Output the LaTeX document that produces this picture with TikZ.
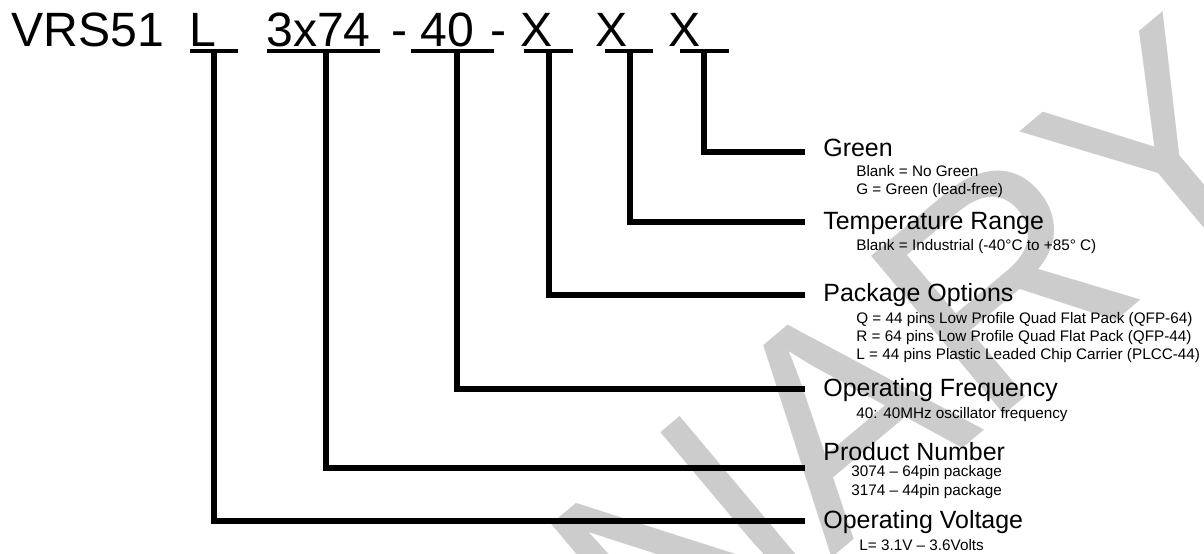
\documentclass[tikz,border=0pt]{standalone}
\usepackage{fontspec}
\setmainfont{Liberation Sans}

\tikzset{
  field/.style={anchor=base west, inner sep=0pt, font=\fontsize{27.4}{30}\selectfont},
  title/.style={anchor=base west, inner sep=0pt, font=\fontsize{14.2}{16}\selectfont},
  info/.style={anchor=base west, inner sep=0pt, font=\fontsize{8.7}{10}\selectfont},
  uline/.style={line width=0.7mm},
  lead/.style={line width=1.2mm, line join=miter},
}

\begin{document}
\begin{tikzpicture}[x=0.2mm, y=-0.2mm]
    \useasboundingbox (0,0) rectangle (1204,554);

    % Watermark behind everything
    \begin{scope}
        \clip (0,0) rectangle (1204,554);
        \node[anchor=base east, inner sep=0pt, rotate=40, text=black!20,
              font=\fontsize{171}{171}\selectfont] (stamp) at (1301,165) {PRELIMINARY};
    \end{scope}

    % Part number fields
    \node[field] (vrs) at (11,47) {VRS51};
    \node[field] (fL) at (189,47) {L};
    \node[field] (fPN) at (266,47) {3x74};
    \node[field] (dashA) at (391,47) {-};
    \node[field] (fF) at (420,47) {40};
    \node[field] (dashB) at (490,47) {-};
    \node[field] (fPk) at (520,47) {X};
    \node[field] (fT) at (595,47) {X};
    \node[field] (fG) at (668,47) {X};

    % Underlines and the top of each stem
    \foreach \n/\a/\b/\s in {L/190/238/214, PN/267/380/326, F/411/494/456.5,
                             Pk/524/573/549, T/605/653/629.5, G/680/729/703.5}{
        \draw[uline] (\a,51) -- (\b,51);
        \coordinate (u\n) at (\s,51);
    }

    % Where the leads stop, left of the labels
    \coordinate (eG) at (805,152);
    \coordinate (eT) at (805,222.5);
    \coordinate (ePk) at (805,295);
    \coordinate (eF) at (805,389.5);
    \coordinate (ePN) at (805,468);
    \coordinate (eL) at (805,521);

    % Leads
    \draw[lead] (uG) |- (eG);
    \draw[lead] (uT) |- (eT);
    \draw[lead] (uPk) |- (ePk);
    \draw[lead] (uF) |- (eF);
    \draw[lead] (uPN) |- (ePN);
    \draw[lead] (uL) |- (eL);

    % Labels
    \node[title] (tG) at (823,157) {Green};
    \node[info] (iG1) at (856,177) {Blank = No Green};
    \node[info] (iG2) at (856,195) {G = Green (lead-free)};

    \node[title] (tT) at (823,230) {Temperature Range};
    \node[info] (iT1) at (856,251) {Blank = Industrial (-40°C to +85° C)};

    \node[title] (tPk) at (823,302) {Package Options};
    \node[info] (iPk1) at (856,324) {Q = 44 pins Low Profile Quad Flat Pack (QFP-64)};
    \node[info] (iPk2) at (856,342) {R = 64 pins Low Profile Quad Flat Pack (QFP-44)};
    \node[info] (iPk3) at (856,360) {L = 44 pins Plastic Leaded Chip Carrier (PLCC-44)};

    \node[title] (tF) at (823,397) {Operating Frequency};
    \node[info] (iF1) at (856,418) {40: 40MHz oscillator frequency};

    \node[title] (tPN) at (823,460) {Product Number};
    \node[info] (iPN1) at (851,477) {3074 – 64pin package};
    \node[info] (iPN2) at (851,495) {3174 – 44pin package};

    \node[title] (tL) at (823,528) {Operating Voltage};
    \node[info] (iL1) at (859,550) {L= 3.1V – 3.6Volts};
\end{tikzpicture}
\end{document}
